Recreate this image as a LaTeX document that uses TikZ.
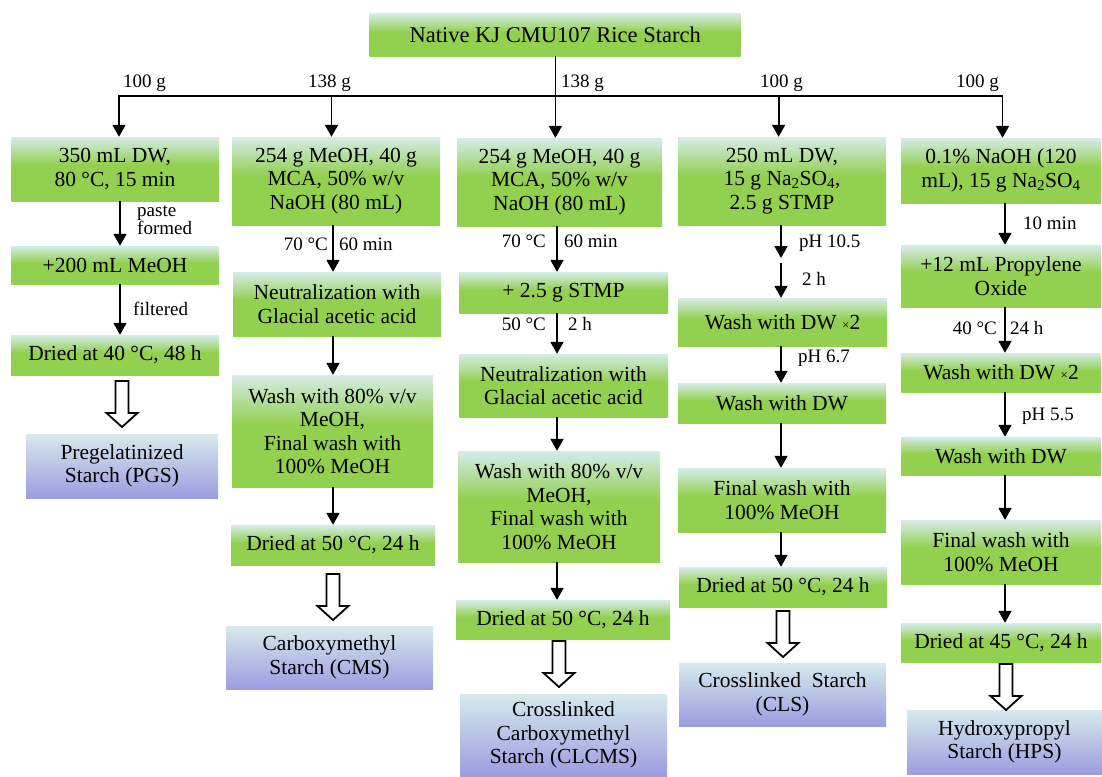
\documentclass[tikz,border=0pt]{standalone}
\usepackage{fontspec}
\setmainfont{LiberationSerif}[Extension=.ttf, UprightFont=*-Regular, BoldFont=*-Bold, ItalicFont=*-Italic, BoldItalicFont=*-BoldItalic]
\usetikzlibrary{arrows.meta,calc}
\definecolor{gG}{HTML}{92D050}
\definecolor{gL}{HTML}{D6ECE8}
\definecolor{pT}{HTML}{D5EAEC}
\definecolor{pB}{HTML}{9C9CE0}
\pgfdeclareverticalshading{greenbox}{100bp}{color(0bp)=(gG); color(25bp)=(gG); color(53bp)=(gG); color(75bp)=(gL); color(100bp)=(gL)}
\pgfdeclareverticalshading{bluebox}{100bp}{color(0bp)=(pB); color(25bp)=(pB); color(75bp)=(pT); color(100bp)=(pT)}
\tikzset{
  box/.style={shade, shading=greenbox, inner sep=0pt, align=center, font=\fontsize{21.5}{23.5}\selectfont},
  res/.style={shade, shading=bluebox, inner sep=0pt, align=center, font=\fontsize{21.5}{23.5}\selectfont},
  lab/.style={inner sep=0pt, font=\fontsize{19}{18}\selectfont},
  arr/.style={line width=1.8pt, -{Triangle[width=13pt,length=12pt]}},
  hline/.style={line width=1.8pt, line cap=rect},
  hollowarrow/.pic={\draw[line width=1.8pt, fill=white, line join=miter]
     (-6.5,0) -- (-6.5,32) -- (-15.5,32) -- (0,46) -- (15.5,32) -- (6.5,32) -- (6.5,0) -- cycle;}
}
\newcommand{\xx}{{\fontsize{13}{13}\selectfont ×}}
\begin{document}
\begin{tikzpicture}[x=1pt,y=-1pt]
\fill[white] (0,0) rectangle (1102,776);
\useasboundingbox (0,0) rectangle (1102,776);

% column x positions
\coordinate (x1) at (120,0);
\coordinate (x2) at (333,0);
\coordinate (x3) at (557,0);
\coordinate (x4) at (781,0);
\coordinate (x5) at (1005,0);

% top
\node[box, minimum width=371pt, minimum height=43pt, font=\fontsize{22.5}{24}\selectfont] (top) at (555.2,34.7) {Native KJ CMU107 Rice Starch};

\coordinate (h1) at (119,95.7);
\coordinate (h2) at (331.5,95.7);
\coordinate (h3) at (555.4,95.7);
\coordinate (h4) at (778.6,95.7);
\coordinate (h5) at (1002.5,95.7);

% column 1
\node[box, minimum width=208pt, minimum height=64pt] (a1) at (115,169) {350 mL DW,\\80 °C, 15 min};
\node[box, minimum width=208pt, minimum height=38pt] (a2) at (115,265) {+200 mL MeOH};
\node[box, minimum width=208pt, minimum height=40pt] (a3) at (115,355) {Dried at 40 °C, 48 h};
\node[res, minimum width=192pt, minimum height=64pt] (a4) at (122,466) {Pregelatinized\\Starch (PGS)};

% column 2
\node[box, minimum width=208pt, minimum height=88pt] (b1) at (336,181) {254 g MeOH, 40 g\\MCA, 50\% w/v\\NaOH (80 mL)};
\node[box, minimum width=208pt, minimum height=64pt] (b2) at (337,304) {Neutralization with\\Glacial acetic acid};
\node[box, minimum width=201pt, minimum height=112pt] (b3) at (332.5,431) {Wash with 80\% v/v\\MeOH,\\Final wash with\\100\% MeOH};
\node[box, minimum width=204pt, minimum height=40pt] (b4) at (333,545) {Dried at 50 °C, 24 h};
\node[res, minimum width=207pt, minimum height=63pt] (b5) at (329.5,657.5) {Carboxymethyl\\Starch (CMS)};

% column 3
\node[box, minimum width=205pt, minimum height=88pt] (c1) at (559.5,182) {254 g MeOH, 40 g\\MCA, 50\% w/v\\NaOH (80 mL)};
\node[box, minimum width=209pt, minimum height=41pt] (c2) at (563.5,292.5) {+ 2.5 g STMP};
\node[box, minimum width=209pt, minimum height=63pt] (c3) at (563.5,385.5) {Neutralization with\\Glacial acetic acid};
\node[box, minimum width=202pt, minimum height=111pt] (c4) at (559,506.5) {Wash with 80\% v/v\\MeOH,\\Final wash with\\100\% MeOH};
\node[box, minimum width=214pt, minimum height=39pt] (c5) at (563,619.5) {Dried at 50 °C, 24 h};
\node[res, minimum width=207pt, minimum height=82pt] (c6) at (563.5,735) {Crosslinked\\Carboxymethyl\\Starch (CLCMS)};

% column 4
\node[box, minimum width=208pt, minimum height=88pt] (d1) at (782,181) {250 mL DW,\\15 g Na\textsubscript{2}SO\textsubscript{4},\\2.5 g STMP};
\coordinate (dm1) at (781,258);
\coordinate (dm2) at (781,263);
\node[box, minimum width=209pt, minimum height=48pt] (d2) at (782.5,322) {Wash with DW \xx2};
\node[box, minimum width=208pt, minimum height=40pt] (d3) at (782,403) {Wash with DW};
\node[box, minimum width=208pt, minimum height=64pt] (d4) at (782,500) {Final wash with\\100\% MeOH};
\node[box, minimum width=208pt, minimum height=40pt] (d5) at (783,587) {Dried at 50 °C, 24 h};
\node[res, minimum width=207pt, minimum height=63pt] (d6) at (782.5,694.5) {Crosslinked\ \ Starch\\(CLS)};

% column 5
\node[box, minimum width=200pt, minimum height=65pt] (e1) at (1001,170.5) {0.1\% NaOH (120\\mL), 15 g Na\textsubscript{2}SO\textsubscript{4}};
\node[box, minimum width=200pt, minimum height=62pt] (e2) at (1001,276) {+12 mL Propylene\\Oxide};
\node[box, minimum width=200pt, minimum height=39pt] (e3) at (1001,372.5) {Wash with DW \xx2};
\node[box, minimum width=200pt, minimum height=38pt] (e4) at (1001,456) {Wash with DW};
\node[box, minimum width=200pt, minimum height=64pt] (e5) at (1001,552) {Final wash with\\100\% MeOH};
\node[box, minimum width=200pt, minimum height=39pt] (e6) at (1001,642.5) {Dried at 45 °C, 24 h};
\node[res, minimum width=195pt, minimum height=64pt] (e7) at (1004.5,742) {Hydroxypropyl\\Starch (HPS)};

% top distribution
\draw[line width=1.8pt] (top.south -| h3) -- (h3);
\draw[hline] (h1) -- (h5);
\draw[arr] (h1) -- (a1.north -| h1);
\draw[arr] (h2) -- (b1.north -| h2);
\draw[arr] (h3) -- (c1.north -| h3);
\draw[arr] (h4) -- (d1.north -| h4);
\draw[arr] (h5) -- (e1.north -| h5);

\node[lab, anchor=base west] (q1) at (123,87) {100 g};
\node[lab, anchor=base west] (q2) at (308,87) {138 g};
\node[lab, anchor=base west] (q3) at (561,87) {138 g};
\node[lab, anchor=base west] (q4) at (760,87) {100 g};
\node[lab, anchor=base west] (q5) at (956,87) {100 g};

% column 1 connectors
\draw[arr] (a1.south -| x1) -- (a2.north -| x1);
\draw[arr] (a2.south -| x1) -- (a3.north -| x1);
\node[lab, anchor=west, align=left] (la1) at (137,220) {paste\\formed};
\node[lab, anchor=base west] (la2) at (133,315) {filtered};
\pic at (122,381) {hollowarrow};

% column 2 connectors
\draw[arr] (b1.south -| x2) -- (b2.north -| x2);
\draw[arr] (b2.south -| x2) -- (b3.north -| x2);
\draw[arr] (b3.south -| x2) -- (b4.north -| x2);
\node[lab, anchor=base east] (lb1) at (328,250) {70 °C};
\node[lab, anchor=base west] (lb2) at (339,250) {60 min};
\pic at (333,574) {hollowarrow};

% column 3 connectors
\draw[arr] (c1.south -| x3) -- (c2.north -| x3);
\draw[arr] (c2.south -| x3) -- (c3.north -| x3);
\draw[arr] (c3.south -| x3) -- (c4.north -| x3);
\draw[arr] (c4.south -| x3) -- (c5.north -| x3);
\node[lab, anchor=base east] (lc1) at (546,247) {70 °C};
\node[lab, anchor=base west] (lc2) at (564,247) {60 min};
\node[lab, anchor=base east] (lc3) at (546,330) {50 °C};
\node[lab, anchor=base west] (lc4) at (568,330) {2 h};
\pic at (559,641) {hollowarrow};

% column 4 connectors
\draw[arr] (d1.south -| x4) -- (dm1);
\draw[arr] (dm2) -- (d2.north -| x4);
\draw[arr] (d2.south -| x4) -- (d3.north -| x4);
\draw[arr] (d3.south -| x4) -- (d4.north -| x4);
\draw[arr] (d4.south -| x4) -- (d5.north -| x4);
\node[lab, anchor=base west] (ld1) at (799,247) {pH 10.5};
\node[lab, anchor=base west] (ld2) at (802,285) {2 h};
\node[lab, anchor=base west] (ld3) at (798,362) {pH 6.7};
\pic at (783,611) {hollowarrow};

% column 5 connectors
\draw[arr] (e1.south -| x5) -- (e2.north -| x5);
\draw[arr] (e2.south -| x5) -- (e3.north -| x5);
\draw[arr] (e3.south -| x5) -- (e4.north -| x5);
\draw[arr] (e4.south -| x5) -- (e5.north -| x5);
\draw[arr] (e5.south -| x5) -- (e6.north -| x5);
\node[lab, anchor=base west] (le1) at (1023,229) {10 min};
\node[lab, anchor=base east] (le2) at (997,334) {40 °C};
\node[lab, anchor=base west] (le3) at (1010,334) {24 h};
\node[lab, anchor=base west] (le4) at (1022,420) {pH 5.5};
\pic at (1006,664) {hollowarrow};
\end{tikzpicture}
\end{document}
